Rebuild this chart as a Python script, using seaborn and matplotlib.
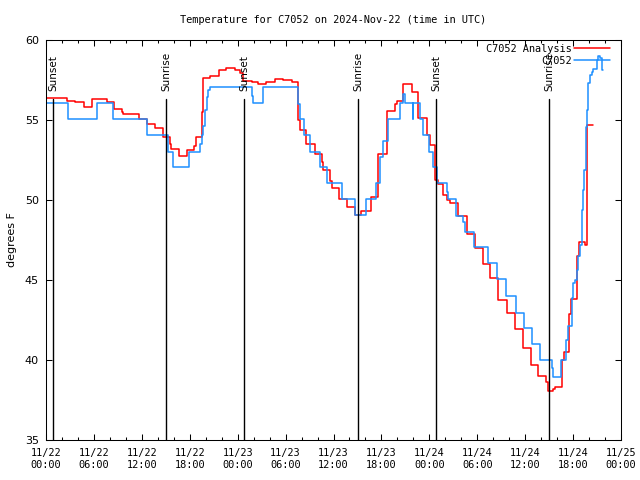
import matplotlib

matplotlib.use("Agg")
import matplotlib.dates as mdates
import matplotlib.pyplot as plt
import pandas as pd
import seaborn as sns

START = pd.Timestamp("2024-11-22 00:00")

# hours after START where each step begins, with its temperature (F)
red_hours = [
    0.0, 2.6, 3.6, 4.7, 5.7, 7.6, 8.5, 9.5, 9.7, 11.6, 12.6, 13.6, 14.7, 15.5,
    15.7, 16.6, 17.6, 18.5, 18.8, 19.5, 19.7, 20.5, 21.6, 22.6, 23.7, 24.3,
    24.7, 25.8, 26.6, 27.6, 28.7, 29.7, 30.8, 31.6, 31.8, 32.6, 33.7, 34.5,
    34.7, 35.6, 35.8, 36.7, 37.65, 38.7, 39.5, 40.7, 41.6, 42.7, 43.7, 43.9,
    44.7, 45.8, 46.6, 47.7, 48.1, 48.7, 49.1, 49.7, 50.2, 50.6, 51.6, 52.7,
    53.7, 54.7, 55.6, 56.6, 57.7, 58.7, 59.7, 60.7, 61.65, 62.6, 62.8, 63.5,
    63.7, 64.6, 64.9, 65.5, 65.7, 66.5, 66.8, 67.5, 67.7, 68.5,
]
red_temps = [
    56.35, 56.19, 56.12, 55.79, 56.29, 56.12, 55.67, 55.5, 55.35, 55.04, 54.75,
    54.48, 53.92, 53.5, 53.19, 52.75, 53.12, 53.4, 53.96, 55.5, 57.65, 57.75,
    58.12, 58.23, 58.12, 57.92, 57.44, 57.4, 57.25, 57.4, 57.58, 57.5, 57.4,
    55.0, 54.38, 53.5, 52.88, 52.4, 51.88, 51.2, 50.75, 50.04, 49.58, 49.06,
    49.31, 50.21, 52.88, 55.58, 56.0, 56.19, 57.25, 56.77, 55.1, 54.06, 53.44,
    51.25, 51.0, 50.3, 50.0, 49.79, 49.0, 47.88, 46.98, 45.98, 45.1, 43.75,
    42.92, 41.92, 40.73, 39.69, 39.0, 38.6, 38.06, 38.2, 38.29, 40.0, 40.48,
    42.9, 43.81, 46.5, 47.35, 47.2, 54.69, 54.69,
]

blue_hours = [
    0.0, 2.8, 6.35, 8.43, 12.6, 15.3, 15.95, 17.95, 19.28, 19.5, 19.7, 19.9,
    20.1, 20.3, 20.5, 25.76, 25.96, 27.13, 31.6, 31.8, 32.35, 33.06, 34.3,
    35.2, 37.1, 38.7, 40.07, 41.3, 41.8, 42.2, 42.8, 44.3, 44.7, 44.9, 45.9,
    46.0, 46.8, 47.25, 47.9, 48.4, 48.9, 50.2, 50.38, 51.34, 52.25, 52.47,
    53.63, 55.3, 56.43, 57.6, 58.85, 59.85, 60.8, 61.86, 63.32, 63.45, 64.45,
    65.07, 65.4, 65.83, 66.03, 66.24, 66.45, 66.66, 66.87, 67.08, 67.28,
    67.37, 67.58, 67.7, 67.9, 68.12, 68.33, 68.53, 68.95, 69.16, 69.37,
    69.58, 69.79,
]
blue_temps = [
    56.06, 55.04, 56.06, 55.04, 54.04, 53.02, 52.04, 53.02, 53.5, 54.04, 54.6,
    55.6, 56.46, 56.88, 57.04, 56.5, 56.06, 57.04, 56.0, 55.04, 54.04, 53.02,
    52.04, 51.04, 50.04, 49.06, 50.04, 51.04, 52.7, 53.7, 55.04, 56.04, 56.6,
    56.04, 55.04, 56.04, 55.04, 54.04, 53.02, 52.04, 51.04, 50.5, 50.04,
    49.02, 48.6, 48.02, 47.04, 46.04, 45.04, 44.0, 42.96, 41.98, 40.98, 40.0,
    39.5, 38.96, 40.0, 41.25, 42.1, 43.9, 44.8, 45.0, 45.6, 46.5, 47.2, 49.4,
    50.6, 51.9, 54.58, 55.6, 57.3, 57.8, 58.02, 58.2, 58.75, 59.0, 58.9,
    58.12, 58.12,
]

event_hours = [0.92, 15.07, 24.79, 39.1, 48.86, 63.03]
event_names = ["Sunset", "Sunrise", "Sunset", "Sunrise", "Sunset", "Sunrise"]

MONO = "DejaVu Sans Mono"


def to_times(hours):
    return START + pd.to_timedelta(hours, unit="h")


sns.set_style("ticks")
plt.rcParams["font.family"] = ["DejaVu Sans"]
plt.rcParams["text.color"] = "black"
plt.rcParams["axes.labelcolor"] = "black"
plt.rcParams["xtick.color"] = "black"
plt.rcParams["ytick.color"] = "black"

fig = plt.figure(figsize=(6.4, 4.8), dpi=100)
ax = fig.add_axes([46 / 640, 40 / 480, 575 / 640, 400 / 480])

sns.lineplot(
    x=to_times(red_hours), y=red_temps, ax=ax, color="#ff0000", lw=1.1,
    drawstyle="steps-post", estimator=None, label="C7052 Analysis",
)
sns.lineplot(
    x=to_times(blue_hours), y=blue_temps, ax=ax, color="#1e90ff", lw=1.1,
    drawstyle="steps-post", estimator=None, label="C7052",
)

xform = ax.get_xaxis_transform()
for hour, name in zip(event_hours, event_names):
    when = START + pd.Timedelta(hours=hour)
    ax.axvline(when, ymin=0, ymax=0.8525, color="black", lw=1.0)
    ax.text(when, 0.872, name, transform=xform, rotation=90, ha="center",
            va="bottom", fontsize=7.5)

ax.set_xlim(START, START + pd.Timedelta(hours=72))
ax.set_ylim(35, 60)
ax.set_yticks(range(35, 61, 5))
ax.xaxis.set_major_locator(mdates.HourLocator(byhour=[0, 6, 12, 18]))
ax.xaxis.set_minor_locator(mdates.HourLocator(byhour=range(0, 24, 2)))
ax.xaxis.set_major_formatter(mdates.DateFormatter("%m/%d\n%H:%M"))

ax.tick_params(which="both", direction="in", top=True, right=True, width=0.75)
ax.tick_params(which="major", length=4.5)
ax.tick_params(which="minor", length=2.5)
ax.tick_params(axis="y", labelsize=8, pad=5)
ax.tick_params(axis="x", pad=6)
for label in ax.get_xticklabels():
    label.set_fontfamily(MONO)
    label.set_fontsize(7.4)
    label.set_linespacing(1.25)
for spine in ax.spines.values():
    spine.set_linewidth(0.75)
    spine.set_color("black")

ax.set_xlabel("")
ax.set_ylabel("degrees F", fontsize=8, labelpad=6)
fig.text(333.5 / 640, 1 - 20 / 480, "Temperature for C7052 on 2024-Nov-22 (time in UTC)",
         ha="center", va="center", fontfamily=MONO, fontsize=7.4)

ax.legend(
    loc="upper right", bbox_to_anchor=(1 - 11 / 575, 1 - 4 / 400), frameon=False,
    markerfirst=False, handlelength=3.5, handletextpad=0.25, labelspacing=0.2,
    borderaxespad=0, borderpad=0, prop={"family": MONO, "size": 7.4},
)

fig.savefig("out.png", dpi=100, facecolor="white")
